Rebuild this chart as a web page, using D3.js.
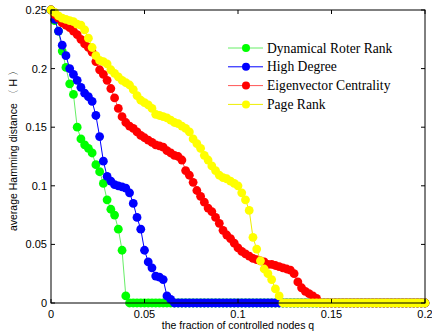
<!DOCTYPE html>
<html>
<head>
<meta charset="utf-8">
<script src="https://cdn.jsdelivr.net/npm/d3@7"></script>
<style>
  body { margin: 0; background: #fff; }
  svg { display: block; }
</style>
</head>
<body>
<div id="chart"></div>
<script>
// fraction of controlled nodes q (shared grid)
const qValues = [
  0, 0.002, 0.004, 0.006, 0.008, 0.01, 0.012, 0.014, 0.016, 0.018,
  0.02, 0.022, 0.024, 0.026, 0.028, 0.03, 0.032, 0.034, 0.036, 0.038,
  0.04, 0.042, 0.044, 0.046, 0.048, 0.05, 0.052, 0.054, 0.056, 0.058,
  0.06, 0.062, 0.064, 0.066, 0.068, 0.07, 0.072, 0.074, 0.076, 0.078,
  0.08, 0.082, 0.084, 0.086, 0.088, 0.09, 0.092, 0.094, 0.096, 0.098,
  0.1, 0.102, 0.104, 0.106, 0.108, 0.11, 0.112, 0.114, 0.116, 0.118,
  0.12, 0.122, 0.124, 0.126, 0.128, 0.13, 0.132, 0.134, 0.136, 0.138,
  0.14, 0.142, 0.144, 0.146, 0.148, 0.15, 0.152, 0.154, 0.156, 0.158,
  0.16, 0.162, 0.164, 0.166, 0.168, 0.17, 0.172, 0.174, 0.176, 0.178,
  0.18, 0.182, 0.184, 0.186, 0.188, 0.19, 0.192, 0.194, 0.196, 0.198,
  0.2
]

const seriesNames = ['Dynamical Roter Rank', 'High Degree', 'Eigenvector Centrality', 'Page Rank']

const dynamicalH = [
  0.250, 0.241, 0.232, 0.215, 0.201, 0.187, 0.178, 0.150, 0.140, 0.135,
  0.132, 0.128, 0.118, 0.112, 0.102, 0.088, 0.080, 0.075, 0.063, 0.045,
  0.006, 0, 0, 0, 0, 0, 0, 0, 0, 0,
  0, 0, 0, 0, 0, 0, 0, 0, 0, 0,
  0, 0, 0, 0, 0, 0, 0, 0, 0, 0,
  0, 0, 0, 0, 0, 0, 0, 0, 0, 0,
  0, 0, 0, 0, 0, 0, 0, 0, 0, 0,
  0, 0, 0, 0, 0, 0, 0, 0, 0, 0,
  0, 0, 0, 0, 0, 0, 0, 0, 0, 0,
  0, 0, 0, 0, 0, 0, 0, 0, 0, 0,
  0
]

const highDegreeH = [
  0.250, 0.242, 0.232, 0.220, 0.211, 0.200, 0.195, 0.190, 0.184, 0.179,
  0.176, 0.172, 0.160, 0.142, 0.121, 0.108, 0.104, 0.101, 0.100, 0.099,
  0.098, 0.094, 0.085, 0.073, 0.063, 0.045, 0.035, 0.030, 0.023, 0.022,
  0.020, 0.006, 0.003, 0, 0, 0, 0, 0, 0, 0,
  0, 0, 0, 0, 0, 0, 0, 0, 0, 0,
  0, 0, 0, 0, 0, 0, 0, 0, 0, 0,
  0, 0, 0, 0, 0, 0, 0, 0, 0, 0,
  0, 0, 0, 0, 0, 0, 0, 0, 0, 0,
  0, 0, 0, 0, 0, 0, 0, 0, 0, 0,
  0, 0, 0, 0, 0, 0, 0, 0, 0, 0,
  0
]

const eigenvectorH = [
  0.250, 0.246, 0.243, 0.239, 0.237, 0.235, 0.232, 0.229, 0.225, 0.221,
  0.218, 0.214, 0.206, 0.199, 0.195, 0.190, 0.183, 0.175, 0.166, 0.159,
  0.154, 0.151, 0.149, 0.146, 0.143, 0.141, 0.139, 0.137, 0.135, 0.134,
  0.133, 0.130, 0.128, 0.126, 0.125, 0.122, 0.113, 0.109, 0.103, 0.096,
  0.091, 0.086, 0.081, 0.078, 0.073, 0.068, 0.062, 0.058, 0.055, 0.051,
  0.047, 0.044, 0.042, 0.040, 0.038, 0.037, 0.036, 0.035, 0.033, 0.033,
  0.032, 0.031, 0.030, 0.029, 0.028, 0.025, 0.018, 0.013, 0.010, 0.008,
  0.006, 0.004, 0, 0, 0, 0, 0, 0, 0, 0,
  0, 0, 0, 0, 0, 0, 0, 0, 0, 0,
  0, 0, 0, 0, 0, 0, 0, 0, 0, 0,
  0
]

const pageRankH = [
  0.250, 0.248, 0.245, 0.243, 0.242, 0.241, 0.240, 0.238, 0.237, 0.233,
  0.226, 0.218, 0.211, 0.207, 0.206, 0.204, 0.199, 0.196, 0.193, 0.190,
  0.188, 0.186, 0.182, 0.177, 0.173, 0.171, 0.169, 0.166, 0.161, 0.160,
  0.159, 0.158, 0.156, 0.154, 0.153, 0.151, 0.149, 0.146, 0.140, 0.136,
  0.132, 0.126, 0.122, 0.117, 0.113, 0.109, 0.107, 0.106, 0.104, 0.102,
  0.100, 0.094, 0.088, 0.079, 0.056, 0.046, 0.036, 0.029, 0.025, 0.020,
  0.012, 0.006, 0, 0, 0, 0, 0, 0, 0, 0,
  0, 0, 0, 0, 0, 0, 0, 0, 0, 0,
  0, 0, 0, 0, 0, 0, 0, 0, 0, 0,
  0, 0, 0, 0, 0, 0, 0, 0, 0, 0,
  0
]

const xTicks = [0, 0.05, 0.1, 0.15, 0.2]
const yTicks = [0, 0.05, 0.1, 0.15, 0.2, 0.25]

const W = 432, H = 335
const m = { t: 10, r: 7, b: 32, l: 51 } // plot box 51..425, 10..303
const mr = 4.4 // marker radius

const colors = ['#00ff00', '#0000ff', '#ff0000', '#ffff00']
const lineColors = ['#66ee66', '#0000ff', '#ff5555', '#eeee00']
const allH = [dynamicalH, highDegreeH, eigenvectorH, pageRankH]

const svg = d3.select('#chart').append('svg')
  .attr('width', W)
  .attr('height', H)
  .attr('viewBox', [0, 0, W, H])

const x = d3.scaleLinear().domain([0, 0.2]).range([m.l, W - m.r])
const y = d3.scaleLinear().domain([0, 0.25]).range([H - m.b, m.t])

// series (green first, yellow on top)
const lineGen = d3.line().x(d => x(d[0])).y(d => y(d[1]))
allH.forEach((vals, i) => {
  const pts = qValues.map((q, k) => [q, vals[k]])
  const g = svg.append('g').attr('class', 'series')
  g.append('path')
    .attr('d', lineGen(pts))
    .attr('fill', 'none')
    .attr('stroke', lineColors[i])
    .attr('stroke-width', 1)
  g.selectAll('circle').data(pts).enter().append('circle')
    .attr('cx', d => x(d[0]))
    .attr('cy', d => y(d[1]))
    .attr('r', mr)
    .attr('fill', colors[i])
})

// axes box with inward ticks on all sides
const axG = svg.append('g').attr('font-family', 'Liberation Sans, Arial, sans-serif')
axG.append('rect')
  .attr('x', x(0)).attr('y', y(0.25))
  .attr('width', x(0.2) - x(0)).attr('height', y(0) - y(0.25))
  .attr('fill', 'none').attr('stroke', '#000').attr('stroke-width', 1)

const tl = 4
axG.selectAll('.xt').data(xTicks).enter().append('path')
  .attr('d', d => `M${x(d)},${y(0)}v${-tl}M${x(d)},${y(0.25)}v${tl}`)
  .attr('stroke', '#000')
axG.selectAll('.yt').data(yTicks).enter().append('path')
  .attr('d', d => `M${x(0)},${y(d)}h${tl}M${x(0.2)},${y(d)}h${-tl}`)
  .attr('stroke', '#000')

axG.selectAll('.xl').data(xTicks).enter().append('text')
  .attr('x', d => x(d))
  .attr('y', y(0) + 15)
  .attr('text-anchor', 'middle')
  .attr('font-size', 11)
  .text(d => d3.format('~g')(d))
axG.selectAll('.yl').data(yTicks).enter().append('text')
  .attr('x', x(0) - 4)
  .attr('y', d => y(d) + 4)
  .attr('text-anchor', 'end')
  .attr('font-size', 11)
  .text(d => d3.format('~g')(d))

axG.append('text')
  .attr('x', (x(0) + x(0.2)) / 2)
  .attr('y', 329)
  .attr('text-anchor', 'middle')
  .attr('font-size', 10.5)
  .text('the fraction of controlled nodes q')

axG.append('text')
  .attr('transform', `translate(17,148) rotate(-90)`)
  .attr('text-anchor', 'middle')
  .attr('font-size', 10.5)
  .text('average Hamming distance \u3008 H \u3009')

// legend
const lg = svg.append('g').attr('font-family', 'Liberation Serif, Times New Roman, serif')
seriesNames.forEach((name, i) => {
  const ly = 48 + i * 18.8
  lg.append('line')
    .attr('x1', 228).attr('x2', 263).attr('y1', ly).attr('y2', ly)
    .attr('stroke', lineColors[i]).attr('stroke-width', 1)
  lg.append('circle').attr('cx', 246).attr('cy', ly).attr('r', 4).attr('fill', colors[i])
  lg.append('text')
    .attr('x', 267).attr('y', ly + 4.5)
    .attr('font-size', 13.6)
    .text(name)
})
</script>
</body>
</html>
